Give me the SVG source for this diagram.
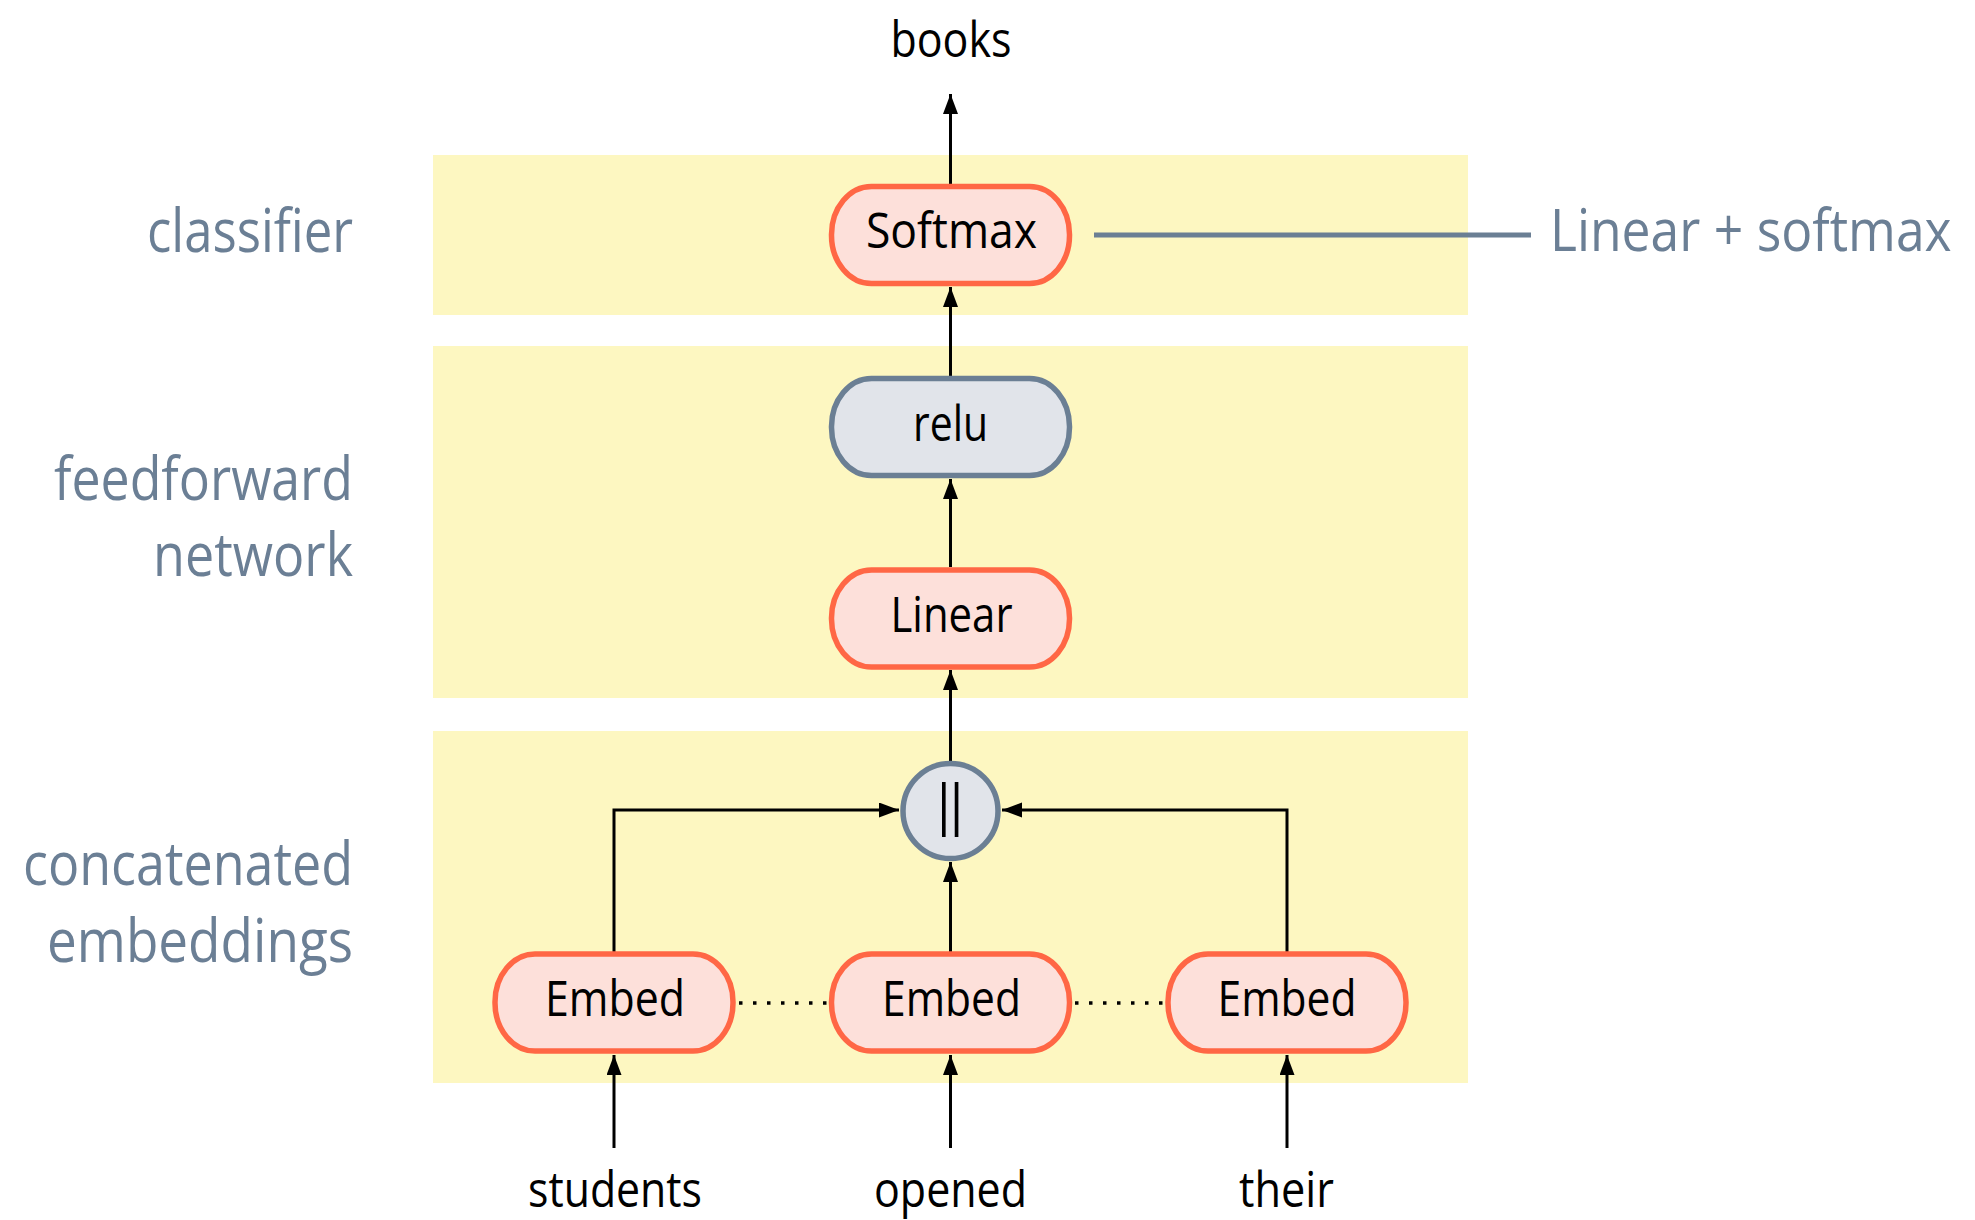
<svg xmlns="http://www.w3.org/2000/svg" width="1975" height="1220" viewBox="0 0 1975 1220">
<style>
.band{fill:#fdf7c1}
.op{fill:#fde0da;stroke:#ff6745;stroke-width:5.5}
.gr{fill:#e1e4ea;stroke:#6b7f94;stroke-width:5.5}
.lbl{font-family:"Open Sans","Noto Sans",sans-serif;font-size:49px;fill:#000;text-anchor:middle}
.side{font-family:"Open Sans","Noto Sans",sans-serif;font-size:60px;fill:#6b7f95;text-anchor:end}
.conn{fill:none;stroke:#000;stroke-width:3}
.dot{fill:none;stroke:#000;stroke-width:3.5;stroke-dasharray:3.5 10.5}
</style>
<defs>
<marker id="ah" markerUnits="userSpaceOnUse" markerWidth="22" markerHeight="16" refX="20" refY="7.5" orient="auto">
<path d="M0,0 L20,7.5 L0,15 z" fill="#000"/>
</marker>
</defs>
<rect width="1975" height="1220" fill="#fff"/>
<g id="bands">
<rect class="band" x="433" y="155" width="1035" height="160"/>
<rect class="band" x="433" y="346" width="1035" height="352"/>
<rect class="band" x="433" y="731" width="1035" height="352"/>
</g>
<g id="side-labels">
<text class="side" x="353" y="252" textLength="206" lengthAdjust="spacingAndGlyphs">classifier</text>
<text class="side" x="353" y="500" textLength="299" lengthAdjust="spacingAndGlyphs">feedforward</text>
<text class="side" x="353" y="576" textLength="200" lengthAdjust="spacingAndGlyphs">network</text>
<text class="side" x="353" y="885" textLength="330" lengthAdjust="spacingAndGlyphs">concatenated</text>
<text class="side" x="353" y="962" textLength="306" lengthAdjust="spacingAndGlyphs">embeddings</text>
</g>
<g id="connectors">
<path class="conn" d="M950.5 184 L950.5 94" marker-end="url(#ah)"/>
<path class="conn" d="M950.5 376 L950.5 287" marker-end="url(#ah)"/>
<path class="conn" d="M950.5 567 L950.5 479" marker-end="url(#ah)"/>
<path class="conn" d="M950.5 761 L950.5 670" marker-end="url(#ah)"/>
<path class="conn" d="M950.5 952 L950.5 862" marker-end="url(#ah)"/>
<path class="conn" d="M614 952 L614 810 L899 810" marker-end="url(#ah)"/>
<path class="conn" d="M1287 952 L1287 810 L1002 810" marker-end="url(#ah)"/>
<path class="conn" d="M614 1148 L614 1055" marker-end="url(#ah)"/>
<path class="conn" d="M950.5 1148 L950.5 1055" marker-end="url(#ah)"/>
<path class="conn" d="M1287 1148 L1287 1055" marker-end="url(#ah)"/>
<path class="dot" d="M739 1003 L828 1003"/>
<path class="dot" d="M1075 1003 L1165 1003"/>
<path d="M1094 235 L1531 235" fill="none" stroke="#6b7f94" stroke-width="5"/>
</g>
<g id="softmax" transform="translate(950.5 235)">
<rect class="op" x="-119" y="-48.5" width="238" height="97" rx="40" ry="48"/>
<text class="lbl" x="1" y="13" textLength="171" lengthAdjust="spacingAndGlyphs">Softmax</text>
</g>
<g id="relu" transform="translate(950.5 427)">
<rect class="gr" x="-119" y="-48.5" width="238" height="97" rx="40" ry="48"/>
<text class="lbl" x="0" y="14" textLength="75" lengthAdjust="spacingAndGlyphs">relu</text>
</g>
<g id="linear" transform="translate(950.5 618.5)">
<rect class="op" x="-119" y="-48.5" width="238" height="97" rx="40" ry="48"/>
<text class="lbl" x="1" y="13" textLength="122" lengthAdjust="spacingAndGlyphs">Linear</text>
</g>
<g id="concat">
<circle class="gr" cx="950.5" cy="811" r="47.5"/>
<text x="929" y="824" font-family="'Open Sans','Noto Sans',sans-serif" font-size="54" letter-spacing="-17" fill="#000">||</text>
</g>
<g id="embed1" transform="translate(614 1002.5)">
<rect class="op" x="-119" y="-48.5" width="238" height="97" rx="40" ry="48"/>
<text class="lbl" x="1" y="13.5" textLength="140" lengthAdjust="spacingAndGlyphs">Embed</text>
</g>
<g id="embed2" transform="translate(950.5 1002.5)">
<rect class="op" x="-119" y="-48.5" width="238" height="97" rx="40" ry="48"/>
<text class="lbl" x="1" y="13.5" textLength="139" lengthAdjust="spacingAndGlyphs">Embed</text>
</g>
<g id="embed3" transform="translate(1287 1002.5)">
<rect class="op" x="-119" y="-48.5" width="238" height="97" rx="40" ry="48"/>
<text class="lbl" x="0" y="13.5" textLength="139" lengthAdjust="spacingAndGlyphs">Embed</text>
</g>
<g id="outputs-inputs">
<text class="lbl" x="951" y="57" textLength="121" lengthAdjust="spacingAndGlyphs">books</text>
<text class="lbl" x="615" y="1207" textLength="174" lengthAdjust="spacingAndGlyphs">students</text>
<text class="lbl" x="950.5" y="1207" textLength="153" lengthAdjust="spacingAndGlyphs">opened</text>
<text class="lbl" x="1286.5" y="1207" textLength="95" lengthAdjust="spacingAndGlyphs">their</text>
</g>
<g id="annotation">
<text transform="translate(1550 251) scale(0.875 1)" x="0" y="0" font-family="'Open Sans','Noto Sans',sans-serif" font-size="59" fill="#6b7f95">Linear + softmax</text>
</g>
</svg>
